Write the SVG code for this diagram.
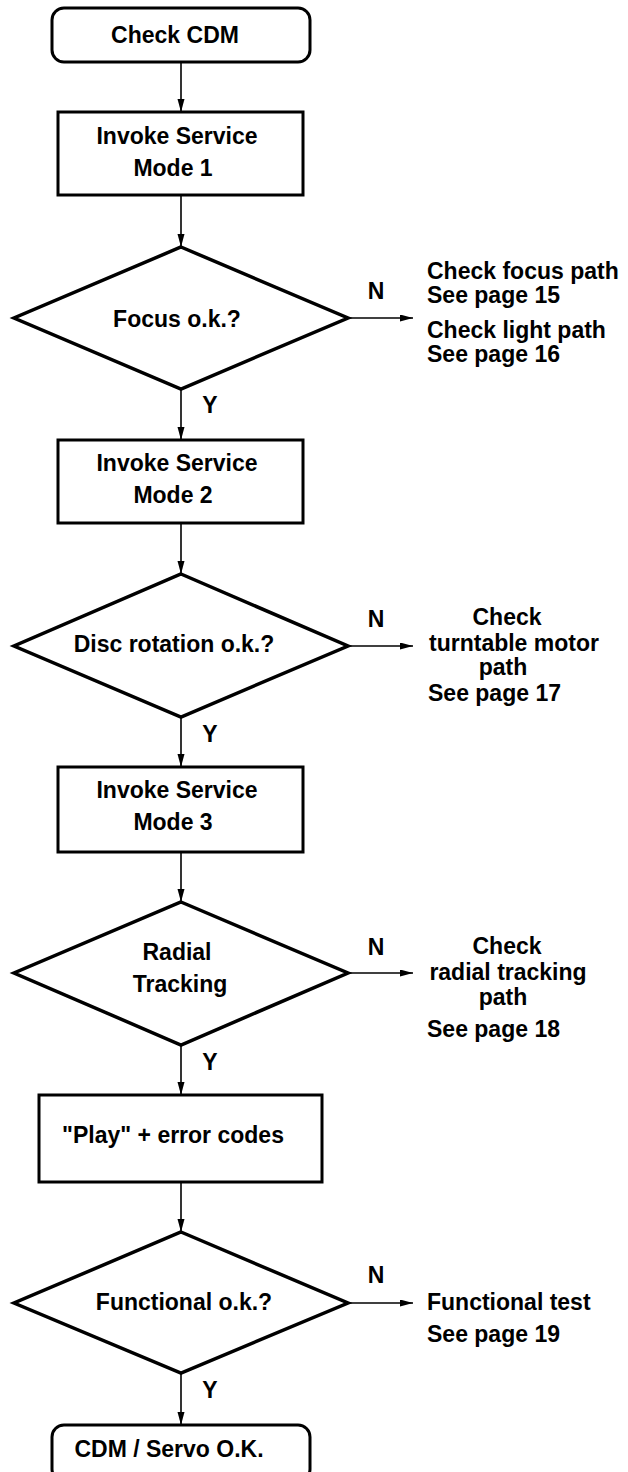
<svg xmlns="http://www.w3.org/2000/svg" width="628" height="1472" viewBox="0 0 628 1472">
<style>
.shape{fill:#fff;stroke:#000;stroke-width:3}
.dia{fill:#fff;stroke:#000;stroke-width:3.5;stroke-linejoin:miter}
.t{font-family:"Liberation Sans",Arial,Helvetica,sans-serif;font-weight:bold;font-size:23px;fill:#000}
.m{text-anchor:middle}
.s{text-anchor:start}
.c{stroke:#000;stroke-width:1.6;fill:none}
</style>
<defs>
<marker id="ah" markerUnits="userSpaceOnUse" markerWidth="14" markerHeight="8" refX="13" refY="3.5" orient="auto">
<path d="M0,0 L13,3.5 L0,7 z" fill="#000"/>
</marker>
</defs>
<rect width="628" height="1472" fill="#fff"/>
<g id="connectors">
<line class="c" x1="181" y1="62" x2="181" y2="112" marker-end="url(#ah)"/>
<line class="c" x1="181" y1="195" x2="181" y2="247" marker-end="url(#ah)"/>
<line class="c" x1="181" y1="389" x2="181" y2="440" marker-end="url(#ah)"/>
<line class="c" x1="181" y1="523" x2="181" y2="574" marker-end="url(#ah)"/>
<line class="c" x1="181" y1="717" x2="181" y2="767" marker-end="url(#ah)"/>
<line class="c" x1="181" y1="852" x2="181" y2="902" marker-end="url(#ah)"/>
<line class="c" x1="181" y1="1045" x2="181" y2="1095" marker-end="url(#ah)"/>
<line class="c" x1="181" y1="1182" x2="181" y2="1232" marker-end="url(#ah)"/>
<line class="c" x1="181" y1="1373" x2="181" y2="1425" marker-end="url(#ah)"/>
<line class="c" x1="348" y1="318" x2="413" y2="318" marker-end="url(#ah)"/>
<line class="c" x1="348" y1="646" x2="413" y2="646" marker-end="url(#ah)"/>
<line class="c" x1="348" y1="973" x2="413" y2="973" marker-end="url(#ah)"/>
<line class="c" x1="348" y1="1303" x2="413" y2="1303" marker-end="url(#ah)"/>
<text class="t m" x="376" y="299">N</text>
<text class="t m" x="376" y="627">N</text>
<text class="t m" x="376" y="955">N</text>
<text class="t m" x="376" y="1283">N</text>
<text class="t m" x="210" y="413">Y</text>
<text class="t m" x="210" y="742">Y</text>
<text class="t m" x="210" y="1070">Y</text>
<text class="t m" x="210" y="1398">Y</text>
</g>
<g id="start">
<rect class="shape" x="52" y="8" width="258" height="54" rx="12"/>
<text class="t m" x="175" y="43">Check CDM</text>
</g>
<g id="mode1">
<rect class="shape" x="58" y="112" width="245" height="83"/>
<text class="t m" x="177" y="144">Invoke Service</text>
<text class="t m" x="173" y="176">Mode 1</text>
</g>
<g id="focus">
<polygon class="dia" points="181,247 348,318 181,389 14,318"/>
<text class="t m" x="177" y="327">Focus o.k.?</text>
</g>
<g id="focus-no">
<text class="t s" x="427" y="279">Check focus path</text>
<text class="t s" x="427" y="303">See page 15</text>
<text class="t s" x="427" y="338">Check light path</text>
<text class="t s" x="427" y="362">See page 16</text>
</g>
<g id="mode2">
<rect class="shape" x="58" y="440" width="245" height="83"/>
<text class="t m" x="177" y="471">Invoke Service</text>
<text class="t m" x="173" y="503">Mode 2</text>
</g>
<g id="disc">
<polygon class="dia" points="181,574 348,646 181,717 14,646"/>
<text class="t m" x="174" y="652">Disc rotation o.k.?</text>
</g>
<g id="disc-no">
<text class="t m" x="507" y="625">Check</text>
<text class="t m" x="514" y="651">turntable motor</text>
<text class="t m" x="503" y="675">path</text>
<text class="t s" x="428" y="701">See page 17</text>
</g>
<g id="mode3">
<rect class="shape" x="58" y="767" width="245" height="85"/>
<text class="t m" x="177" y="798">Invoke Service</text>
<text class="t m" x="173" y="830">Mode 3</text>
</g>
<g id="radial">
<polygon class="dia" points="181,902 348,973 181,1045 14,973"/>
<text class="t m" x="177" y="960">Radial</text>
<text class="t m" x="180" y="992">Tracking</text>
</g>
<g id="radial-no">
<text class="t m" x="507" y="954">Check</text>
<text class="t m" x="508" y="980">radial tracking</text>
<text class="t m" x="503" y="1005">path</text>
<text class="t s" x="427" y="1037">See page 18</text>
</g>
<g id="play">
<rect class="shape" x="39" y="1095" width="283" height="87"/>
<text class="t m" x="173" y="1143">"Play" + error codes</text>
</g>
<g id="functional">
<polygon class="dia" points="181,1232 348,1303 181,1373 14,1303"/>
<text class="t m" x="184" y="1310">Functional o.k.?</text>
</g>
<g id="functional-no">
<text class="t s" x="427" y="1310">Functional test</text>
<text class="t s" x="427" y="1342">See page 19</text>
</g>
<g id="end">
<rect class="shape" x="52" y="1425" width="258" height="56" rx="12"/>
<text class="t m" x="169" y="1457">CDM / Servo O.K.</text>
</g>
</svg>
